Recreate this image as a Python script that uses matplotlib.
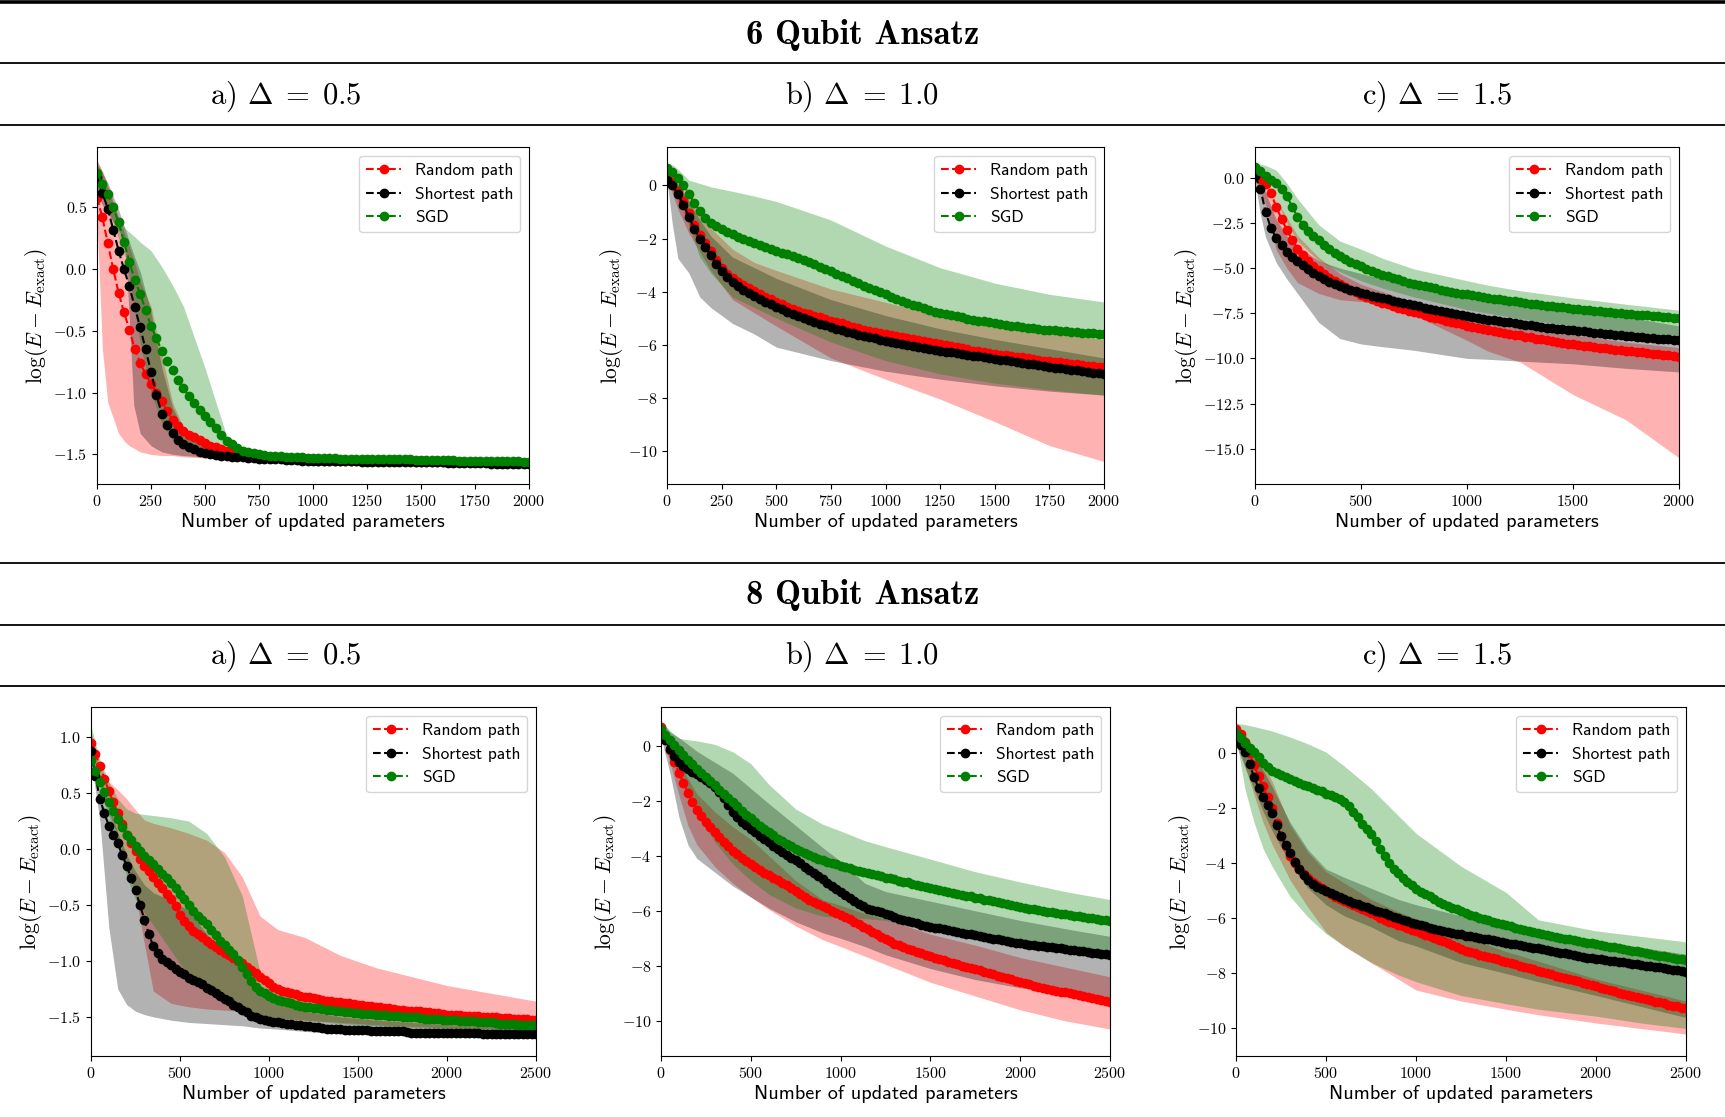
import numpy as np
import matplotlib
matplotlib.use("Agg")
import matplotlib.pyplot as plt
from matplotlib.lines import Line2D
from matplotlib.font_manager import FontProperties

plt.rcParams['font.family'] = 'cmr10'
plt.rcParams['mathtext.fontset'] = 'cm'
plt.rcParams['axes.formatter.use_mathtext'] = True
plt.rcParams['axes.unicode_minus'] = True

# ---------------- data ----------------
methods = ['Random path', 'Shortest path', 'SGD']
colors = ['red', 'black', 'green']
row_titles = ['6 Qubit Ansatz', '8 Qubit Ansatz']
panel_titles = [r'a) $\Delta\;=\;0.5$', r'b) $\Delta\;=\;1.0$', r'c) $\Delta\;=\;1.5$']

x6 = np.arange(0, 2001, 25)     # sampling grid, 6 qubits (81 points)
x8 = np.arange(0, 2501, 25)     # sampling grid, 8 qubits (101 points)

# ---- 6 qubits, Delta = 0.5
q6a_red = [0.58, 0.42, 0.21, 0.0, -0.19, -0.35, -0.49, -0.65, -0.76, -0.85,
           -0.93, -1.0, -1.07, -1.15, -1.22, -1.27, -1.31, -1.34, -1.36, -1.38,
           -1.41, -1.43, -1.44, -1.46, -1.47, -1.48, -1.49, -1.495, -1.5, -1.505,
           -1.51, -1.515, -1.52,
           -1.525, -1.53, -1.53, -1.535, -1.54, -1.54, -1.545, -1.545,
           -1.55, -1.55, -1.55, -1.55, -1.55, -1.55, -1.55, -1.55, -1.55, -1.55,
           -1.555, -1.555, -1.555, -1.555, -1.555, -1.555, -1.555, -1.555,
           -1.56, -1.56, -1.56, -1.56, -1.56, -1.56, -1.56, -1.56, -1.56, -1.56,
           -1.565, -1.565, -1.565, -1.565, -1.565, -1.565,
           -1.57, -1.57, -1.57, -1.57, -1.57, -1.57]
q6a_black = [0.75, 0.62, 0.49, 0.32, 0.15, 0.0, -0.14, -0.31, -0.47, -0.65,
             -0.83, -1.02, -1.17, -1.26, -1.33, -1.38, -1.42, -1.44, -1.46, -1.48,
             -1.49, -1.5, -1.505, -1.51, -1.515, -1.52, -1.52, -1.525, -1.53, -1.53,
             -1.535, -1.535, -1.54,
             -1.54, -1.54, -1.545, -1.545, -1.545, -1.55, -1.55, -1.55,
             -1.555, -1.555, -1.555, -1.555, -1.555, -1.555, -1.555, -1.555,
             -1.56, -1.56, -1.56, -1.56, -1.56, -1.56, -1.56, -1.56,
             -1.565, -1.565, -1.565, -1.565, -1.565, -1.565, -1.565, -1.565,
             -1.57, -1.57, -1.57, -1.57, -1.57, -1.57, -1.57, -1.57,
             -1.575, -1.575, -1.575, -1.575, -1.575, -1.58, -1.58, -1.58]
q6a_green = [0.78, 0.69, 0.61, 0.5, 0.38, 0.22, 0.06, -0.09, -0.2, -0.33,
             -0.46, -0.56, -0.66, -0.74, -0.82, -0.9, -0.96, -1.03, -1.08, -1.14,
             -1.19, -1.24, -1.29, -1.34, -1.39, -1.42, -1.45, -1.47, -1.48, -1.49,
             -1.5, -1.505, -1.51,
             -1.515, -1.515, -1.52, -1.52, -1.525, -1.525, -1.53, -1.53,
             -1.53, -1.53, -1.53, -1.53, -1.535, -1.535, -1.535, -1.535, -1.535, -1.535,
             -1.54, -1.54, -1.54, -1.54, -1.54, -1.54, -1.54, -1.54,
             -1.545, -1.545, -1.545, -1.545, -1.545, -1.545, -1.545, -1.545,
             -1.55, -1.55, -1.55, -1.55, -1.55, -1.55, -1.55, -1.55,
             -1.555, -1.555, -1.555, -1.555, -1.56, -1.56]
q6a_bx = [0, 25, 50, 100, 130, 150, 170, 200, 250, 300, 350, 400, 500, 600, 700, 800, 1000, 1500, 2000]
q6a_red_hi = [0.88, 0.8, 0.68, 0.42, 0.28, 0.18, 0.08, -0.1, -0.3, -0.7, -1.08, -1.28, -1.4, -1.46, -1.49, -1.51, -1.53, -1.54, -1.55]
q6a_red_lo = [0.4, -0.65, -1.08, -1.33, -1.40, -1.43, -1.45, -1.48, -1.5, -1.51, -1.51, -1.52, -1.53, -1.54, -1.55, -1.56, -1.57, -1.59, -1.6]
q6a_black_hi = [0.85, 0.78, 0.7, 0.48, 0.33, 0.22, 0.12, -0.02, -0.35, -0.8, -1.12, -1.3, -1.43, -1.48, -1.51, -1.52, -1.54, -1.55, -1.56]
q6a_black_lo = [0.62, 0.52, 0.45, 0.32, 0.2, -0.4, -1.1, -1.33, -1.43, -1.48, -1.5, -1.51, -1.52, -1.53, -1.54, -1.55, -1.56, -1.58, -1.6]
q6a_green_hi = [0.88, 0.78, 0.65, 0.4, 0.33, 0.3, 0.27, 0.22, 0.15, 0.02, -0.13, -0.3, -0.8, -1.35, -1.48, -1.51, -1.53, -1.54, -1.55]
q6a_green_lo = [0.66, 0.58, 0.5, 0.25, 0.1, -0.05, -0.3, -0.6, -1.0, -1.25, -1.38, -1.44, -1.49, -1.51, -1.52, -1.53, -1.55, -1.57, -1.58]

# ---- 6 qubits, Delta = 1.0
q6b_red = [0.3, 0.12, -0.2, -0.6, -1.03, -1.48, -1.86, -2.17, -2.48, -2.8,
           -3.1, -3.32, -3.48, -3.62, -3.75, -3.87, -3.98, -4.09, -4.19, -4.29,
           -4.39, -4.48, -4.57, -4.66, -4.74, -4.8, -4.86, -4.91, -4.97, -5.03,
           -5.09, -5.15, -5.2, -5.26, -5.32, -5.38, -5.44, -5.48, -5.52, -5.56, -5.6,
           -5.64, -5.68, -5.71, -5.75, -5.79, -5.83, -5.87, -5.9, -5.94, -5.98,
           -6.02, -6.06, -6.1, -6.14, -6.18, -6.22, -6.25, -6.28, -6.31, -6.34,
           -6.37, -6.4, -6.43, -6.45, -6.48, -6.51, -6.54, -6.57, -6.6, -6.62,
           -6.65, -6.67, -6.7, -6.72, -6.74, -6.76, -6.79, -6.81, -6.83, -6.85]
q6b_black = [0.2, 0.0, -0.33, -0.72, -1.18, -1.63, -2.0, -2.32, -2.62, -2.95,
             -3.24, -3.46, -3.64, -3.8, -3.93, -4.05, -4.17, -4.28, -4.38, -4.48,
             -4.58, -4.67, -4.76, -4.85, -4.93, -5.0, -5.07, -5.14, -5.21, -5.27,
             -5.33, -5.39, -5.45, -5.51, -5.56, -5.62, -5.67, -5.72, -5.76, -5.81, -5.85,
             -5.89, -5.93, -5.96, -6.0, -6.04, -6.08, -6.12, -6.16, -6.2, -6.23,
             -6.26, -6.29, -6.32, -6.35, -6.38, -6.41, -6.44, -6.47, -6.5, -6.53,
             -6.56, -6.59, -6.62, -6.65, -6.68, -6.71, -6.74, -6.77, -6.8, -6.83,
             -6.86, -6.88, -6.91, -6.94, -6.96, -6.99, -7.02, -7.05, -7.07, -7.1]
q6b_green = [0.65, 0.5, 0.29, 0.01, -0.32, -0.66, -0.98, -1.24, -1.42, -1.54,
             -1.65, -1.75, -1.84, -1.93, -2.01, -2.09, -2.17, -2.25, -2.33, -2.4,
             -2.47, -2.53, -2.6, -2.67, -2.74, -2.81, -2.89, -2.97, -3.06, -3.15,
             -3.24, -3.32, -3.41, -3.5, -3.59, -3.68, -3.77, -3.86, -3.94, -4.02, -4.1,
             -4.19, -4.27, -4.35, -4.42, -4.49, -4.56, -4.63, -4.69, -4.75, -4.8,
             -4.84, -4.89, -4.93, -4.97, -5.02, -5.06, -5.09, -5.12, -5.16, -5.19,
             -5.23, -5.26, -5.29, -5.31, -5.34, -5.36, -5.38, -5.41, -5.43, -5.44,
             -5.46, -5.48, -5.5, -5.51, -5.53, -5.55, -5.56, -5.57, -5.58, -5.59]
q6b_bx = [0, 25, 50, 100, 150, 200, 300, 400, 500, 750, 1000, 1250, 1500, 1750, 2000]
q6b_red_hi = [0.6, 0.4, 0.1, -0.5, -1.1, -1.6, -2.4, -2.9, -3.2, -3.9, -4.4, -4.9, -5.25, -5.55, -5.8]
q6b_red_lo = [0.2, -0.3, -0.9, -1.8, -2.5, -3.2, -4.3, -4.8, -5.3, -6.5, -7.3, -8.05, -8.9, -9.8, -10.4]
q6b_black_hi = [0.6, 0.35, 0.0, -0.6, -1.3, -1.9, -2.7, -3.1, -3.5, -4.3, -4.9, -5.4, -5.8, -6.15, -6.5]
q6b_black_lo = [0.2, -1.5, -2.75, -3.3, -4.2, -4.6, -5.2, -5.6, -6.09, -6.6, -7.0, -7.3, -7.55, -7.75, -7.9]
q6b_green_hi = [0.85, 0.78, 0.62, 0.2, 0.08, -0.05, -0.22, -0.4, -0.6, -1.3, -2.28, -3.1, -3.68, -4.1, -4.39]
q6b_green_lo = [0.5, 0.2, -0.2, -1.5, -2.7, -3.3, -4.2, -4.6, -5.0, -5.9, -6.6, -7.1, -7.45, -7.7, -7.9]

# ---- 6 qubits, Delta = 1.5
q6c_red = [0.3, -0.05, -0.35, -0.85, -1.6, -2.28, -2.89, -3.42, -3.92, -4.3,
           -4.62, -4.89, -5.12, -5.34, -5.54, -5.72, -5.88, -6.04, -6.19, -6.33,
           -6.47, -6.6, -6.72, -6.82, -6.92, -7.01, -7.1, -7.19, -7.27, -7.35,
           -7.43, -7.51, -7.61, -7.69, -7.77, -7.84, -7.91, -7.98, -8.05, -8.12, -8.18,
           -8.25, -8.31, -8.37, -8.42, -8.48, -8.53, -8.58, -8.63, -8.68, -8.73,
           -8.79, -8.84, -8.9, -8.95, -9.0, -9.06, -9.1, -9.14, -9.18, -9.22,
           -9.26, -9.3, -9.34, -9.38, -9.41, -9.44, -9.47, -9.51, -9.54, -9.57,
           -9.61, -9.64, -9.67, -9.7, -9.73, -9.76, -9.79, -9.82, -9.86, -9.91]
q6c_black = [0.1, -0.6, -1.9, -2.78, -3.33, -3.75, -4.09, -4.38, -4.62, -4.84,
             -5.05, -5.25, -5.43, -5.59, -5.75, -5.89, -6.0, -6.11, -6.21, -6.29,
             -6.38, -6.46, -6.53, -6.6, -6.66, -6.73, -6.8, -6.86, -6.93, -6.99,
             -7.06, -7.12, -7.19, -7.26, -7.33, -7.39, -7.45, -7.5, -7.56, -7.61, -7.67,
             -7.72, -7.76, -7.81, -7.85, -7.89, -7.93, -7.97, -8.01, -8.05, -8.09,
             -8.13, -8.17, -8.21, -8.25, -8.29, -8.33, -8.36, -8.39, -8.42, -8.45,
             -8.48, -8.51, -8.54, -8.57, -8.6, -8.63, -8.66, -8.69, -8.72, -8.75,
             -8.78, -8.8, -8.83, -8.85, -8.88, -8.9, -8.92, -8.95, -8.97, -8.99]
q6c_green = [0.6, 0.35, 0.09, -0.11, -0.3, -0.6, -1.0, -1.6, -2.15, -2.6,
             -2.95, -3.23, -3.47, -3.71, -3.95, -4.15, -4.33, -4.49, -4.64, -4.77,
             -4.91, -5.04, -5.16, -5.26, -5.36, -5.46, -5.55, -5.63, -5.72, -5.8,
             -5.87, -5.93, -6.0, -6.06, -6.12, -6.19, -6.25, -6.3, -6.36, -6.41, -6.46,
             -6.51, -6.56, -6.61, -6.65, -6.69, -6.73, -6.77, -6.81, -6.85, -6.89,
             -6.93, -6.97, -7.01, -7.05, -7.08, -7.12, -7.15, -7.18, -7.21, -7.24,
             -7.27, -7.3, -7.34, -7.37, -7.39, -7.42, -7.45, -7.47, -7.5, -7.52,
             -7.55, -7.57, -7.6, -7.62, -7.65, -7.67, -7.7, -7.73, -7.76, -7.79]
q6c_bx = [0, 25, 50, 100, 150, 200, 300, 400, 500, 600, 750, 1000, 1100, 1250, 1500, 1750, 2000]
q6c_red_hi = [0.5, 0.2, -0.3, -1.2, -2.2, -3.2, -4.4, -5.3, -5.9, -6.3, -6.9, -7.6, -7.9, -8.3, -8.7, -9.1, -9.4]
q6c_red_lo = [0.0, -0.8, -1.5, -4.0, -5.0, -5.8, -6.4, -6.75, -6.85, -7.0, -7.6, -9.0, -9.6, -10.2, -12.0, -13.4, -15.5]
q6c_black_hi = [0.3, -0.2, -0.8, -2.3, -3.2, -3.8, -4.6, -5.0, -5.3, -5.6, -5.9, -6.4, -6.6, -6.9, -7.3, -7.7, -8.2]
q6c_black_lo = [-0.2, -2.0, -3.3, -4.7, -5.6, -6.4, -8.0, -8.9, -9.2, -9.35, -9.55, -10.0, -10.05, -10.15, -10.3, -10.55, -10.75]
q6c_green_hi = [0.8, 0.75, 0.68, 0.42, -0.3, -1.15, -2.6, -3.5, -3.95, -4.45, -5.05, -5.7, -5.95, -6.25, -6.65, -7.0, -7.33]
q6c_green_lo = [0.4, 0.1, -0.3, -1.2, -2.5, -3.5, -4.6, -5.2, -5.7, -6.1, -6.6, -7.3, -7.5, -7.8, -8.2, -8.5, -8.75]

# ---- 8 qubits, Delta = 0.5
q8a_red = [0.95, 0.85, 0.74, 0.63, 0.52, 0.42, 0.32, 0.22, 0.13, 0.05, -0.02,
           -0.09, -0.15, -0.2, -0.25, -0.3, -0.35, -0.4, -0.45, -0.51, -0.59,
           -0.64, -0.69, -0.73, -0.76, -0.79, -0.82, -0.85, -0.88, -0.9, -0.93,
           -0.95, -0.97, -1.0, -1.02, -1.05, -1.08, -1.11, -1.14, -1.17, -1.2,
           -1.23, -1.25, -1.27, -1.28, -1.29, -1.3, -1.31, -1.32, -1.325, -1.33,
           -1.34, -1.35, -1.355, -1.36, -1.365, -1.37, -1.375, -1.38, -1.385, -1.39,
           -1.395, -1.4, -1.405, -1.41, -1.415, -1.42, -1.425, -1.43, -1.435, -1.44,
           -1.445, -1.45, -1.45, -1.45, -1.455, -1.46, -1.465, -1.47, -1.475, -1.48,
           -1.48, -1.48, -1.485, -1.49, -1.49, -1.49, -1.495, -1.5, -1.5, -1.5,
           -1.505, -1.51, -1.51, -1.51, -1.515, -1.52, -1.52, -1.52, -1.525, -1.53]
q8a_black = [0.88, 0.65, 0.45, 0.32, 0.21, 0.13, 0.05, -0.05, -0.15, -0.26, -0.37,
             -0.5, -0.63, -0.76, -0.87, -0.93, -0.98, -1.01, -1.04, -1.07, -1.1,
             -1.12, -1.15, -1.17, -1.19, -1.21, -1.24, -1.26, -1.29, -1.31, -1.34,
             -1.36, -1.39, -1.41, -1.44, -1.46, -1.49, -1.5, -1.52, -1.53, -1.54,
             -1.545, -1.55, -1.555, -1.56, -1.565, -1.57, -1.575, -1.58, -1.585, -1.59,
             -1.595, -1.6, -1.605, -1.61, -1.61, -1.61, -1.615, -1.62, -1.62, -1.62,
             -1.62, -1.62, -1.625, -1.63, -1.63, -1.63, -1.63, -1.63, -1.63, -1.63,
             -1.635, -1.64, -1.64, -1.64, -1.64, -1.64, -1.64, -1.64, -1.64, -1.64,
             -1.64, -1.64, -1.64, -1.64, -1.645, -1.645, -1.645, -1.65, -1.65, -1.65,
             -1.65, -1.65, -1.65, -1.65, -1.65, -1.65, -1.65, -1.65, -1.65, -1.65]
q8a_green = [0.8, 0.7, 0.6, 0.51, 0.42, 0.34, 0.27, 0.2, 0.13, 0.08, 0.03,
             -0.02, -0.06, -0.1, -0.13, -0.18, -0.22, -0.26, -0.3, -0.35, -0.4,
             -0.45, -0.5, -0.55, -0.6, -0.63, -0.67, -0.72, -0.77, -0.82, -0.86,
             -0.9, -0.94, -0.99, -1.05, -1.12, -1.18, -1.23, -1.27, -1.29, -1.31,
             -1.33, -1.35, -1.36, -1.37, -1.38, -1.39, -1.4, -1.41, -1.415, -1.42,
             -1.425, -1.43, -1.435, -1.44, -1.445, -1.45, -1.455, -1.46, -1.465, -1.47,
             -1.472, -1.475, -1.478, -1.48, -1.483, -1.485, -1.488, -1.49, -1.495, -1.5,
             -1.5, -1.5, -1.505, -1.51, -1.515, -1.52, -1.52, -1.52, -1.525, -1.53,
             -1.53, -1.53, -1.535, -1.54, -1.54, -1.54, -1.545, -1.55, -1.55, -1.55,
             -1.555, -1.56, -1.56, -1.56, -1.565, -1.57, -1.57, -1.57, -1.57, -1.57]
q8a_bx = [0, 50, 100, 150, 200, 250, 300, 350, 450, 550, 650, 750, 850, 950, 1050, 1200, 1400, 1600, 2000, 2500]
q8a_red_hi = [1.05, 0.75, 0.6, 0.53, 0.45, 0.35, 0.26, 0.23, 0.19, 0.14, 0.08, -0.03, -0.25, -0.6, -0.72, -0.79, -0.95, -1.06, -1.22, -1.36]
q8a_red_lo = [0.9, 0.6, 0.35, 0.1, -0.15, -0.4, -0.85, -1.27, -1.38, -1.41, -1.43, -1.44, -1.45, -1.48, -1.51, -1.53, -1.55, -1.57, -1.6, -1.62]
q8a_black_hi = [0.95, 0.65, 0.4, 0.15, -0.05, -0.2, -0.32, -0.39, -0.46, -0.55, -0.76, -0.92, -1.1, -1.27, -1.37, -1.45, -1.5, -1.53, -1.57, -1.6]
q8a_black_lo = [0.8, 0.25, -0.7, -1.25, -1.39, -1.45, -1.48, -1.5, -1.53, -1.55, -1.56, -1.57, -1.58, -1.6, -1.61, -1.63, -1.65, -1.66, -1.68, -1.69]
q8a_green_hi = [1.1, 0.8, 0.6, 0.45, 0.36, 0.32, 0.31, 0.3, 0.28, 0.25, 0.14, -0.07, -0.42, -1.1, -1.25, -1.33, -1.39, -1.43, -1.48, -1.51]
q8a_green_lo = [0.75, 0.55, 0.3, 0.05, -0.25, -0.45, -0.57, -0.68, -0.91, -1.14, -1.27, -1.36, -1.43, -1.48, -1.51, -1.53, -1.56, -1.58, -1.61, -1.63]

# ---- 8 qubits, Delta = 1.0
q8b_red = [0.7, 0.3, -0.15, -0.58, -0.98, -1.37, -1.72, -2.04, -2.32, -2.56, -2.77,
           -2.96, -3.15, -3.33, -3.5, -3.66, -3.82, -3.95, -4.08, -4.2, -4.31,
           -4.42, -4.53, -4.62, -4.71, -4.8, -4.89, -4.98, -5.08, -5.17, -5.27,
           -5.38, -5.49, -5.59, -5.69, -5.77, -5.84, -5.91, -5.99, -6.07, -6.15,
           -6.23, -6.31, -6.4, -6.49, -6.58, -6.68, -6.77, -6.86, -6.95, -7.03,
           -7.11, -7.19, -7.26, -7.32, -7.38, -7.44, -7.5, -7.55, -7.6, -7.65,
           -7.7, -7.75, -7.8, -7.85, -7.9, -7.94, -7.99, -8.03, -8.08, -8.12,
           -8.17, -8.22, -8.27, -8.31, -8.36, -8.4, -8.45, -8.49, -8.54, -8.58,
           -8.63, -8.67, -8.72, -8.77, -8.81, -8.85, -8.88, -8.91, -8.94, -8.97,
           -9.0, -9.03, -9.07, -9.1, -9.14, -9.17, -9.21, -9.24, -9.27, -9.3]
q8b_black = [0.5, 0.2, -0.1, -0.38, -0.6, -0.74, -0.84, -0.94, -1.03, -1.14, -1.25,
             -1.37, -1.5, -1.68, -1.9, -2.17, -2.42, -2.6, -2.76, -2.89, -3.01,
             -3.14, -3.27, -3.39, -3.51, -3.63, -3.75, -3.86, -3.96, -4.07, -4.17,
             -4.28, -4.39, -4.5, -4.61, -4.74, -4.86, -4.98, -5.1, -5.21, -5.31,
             -5.42, -5.52, -5.63, -5.74, -5.84, -5.93, -5.98, -6.02, -6.06, -6.1,
             -6.17, -6.24, -6.29, -6.34, -6.38, -6.42, -6.46, -6.5, -6.54, -6.58,
             -6.61, -6.64, -6.68, -6.71, -6.74, -6.77, -6.8, -6.83, -6.86, -6.89,
             -6.92, -6.95, -6.98, -7.01, -7.04, -7.07, -7.1, -7.13, -7.16, -7.18,
             -7.21, -7.23, -7.25, -7.27, -7.29, -7.31, -7.33, -7.35, -7.37, -7.39,
             -7.41, -7.43, -7.45, -7.47, -7.5, -7.52, -7.54, -7.56, -7.58, -7.6]
q8b_green = [0.6, 0.41, 0.22, 0.03, -0.15, -0.33, -0.51, -0.67, -0.83, -0.98, -1.13,
             -1.28, -1.44, -1.59, -1.74, -1.89, -2.05, -2.2, -2.36, -2.5, -2.64,
             -2.77, -2.9, -3.02, -3.15, -3.26, -3.38, -3.47, -3.57, -3.65, -3.74,
             -3.81, -3.89, -3.96, -4.03, -4.1, -4.16, -4.21, -4.26, -4.31, -4.36,
             -4.41, -4.46, -4.5, -4.55, -4.59, -4.63, -4.67, -4.71, -4.75, -4.79,
             -4.82, -4.86, -4.9, -4.94, -4.97, -5.01, -5.05, -5.09, -5.13, -5.17,
             -5.21, -5.25, -5.28, -5.32, -5.35, -5.39, -5.42, -5.45, -5.48, -5.52,
             -5.55, -5.59, -5.62, -5.66, -5.69, -5.73, -5.76, -5.79, -5.82, -5.86,
             -5.89, -5.92, -5.95, -5.98, -6.0, -6.03, -6.05, -6.08, -6.1, -6.13,
             -6.15, -6.18, -6.2, -6.23, -6.25, -6.28, -6.3, -6.33, -6.35, -6.38]
q8b_bx = [0, 50, 100, 150, 200, 300, 400, 500, 600, 750, 900, 1000, 1135, 1250, 1500, 1750, 2000, 2250, 2500]
q8b_red_hi = [0.8, 0.1, -0.6, -1.2, -1.75, -2.4, -2.95, -3.4, -4.0, -4.9, -5.6, -5.8, -6.1, -6.3, -6.85, -7.25, -7.7, -8.05, -8.4]
q8b_red_lo = [0.5, -0.6, -1.8, -2.9, -3.6, -4.4, -5.0, -5.5, -5.95, -6.55, -7.05, -7.3, -7.65, -7.95, -8.6, -9.1, -9.6, -10.0, -10.3]
q8b_black_hi = [0.9, 0.5, 0.3, 0.05, -0.2, -0.6, -1.0, -1.55, -2.1, -2.9, -3.7, -4.2, -5.0, -5.3, -5.65, -6.0, -6.35, -6.65, -6.93]
q8b_black_lo = [0.3, -1.0, -2.6, -3.6, -4.1, -4.6, -5.1, -5.5, -5.9, -6.4, -6.8, -7.0, -7.3, -7.6, -8.1, -8.5, -8.8, -9.0, -9.2]
q8b_green_hi = [0.9, 0.55, 0.27, 0.22, 0.18, 0.05, -0.22, -0.65, -1.4, -2.3, -2.85, -3.1, -3.45, -3.67, -4.12, -4.58, -4.95, -5.3, -5.59]
q8b_green_lo = [0.5, -0.2, -1.0, -1.8, -2.5, -3.5, -4.3, -4.9, -5.4, -5.9, -6.2, -6.25, -6.28, -6.35, -6.7, -7.0, -7.3, -7.5, -7.6]

# ---- 8 qubits, Delta = 1.5
q8c_red = [0.9, 0.7, 0.42, 0.02, -0.42, -0.82, -1.2, -1.58, -2.0, -2.52, -3.0,
           -3.38, -3.72, -3.98, -4.2, -4.38, -4.53, -4.66, -4.77, -4.89, -5.0,
           -5.11, -5.21, -5.29, -5.37, -5.45, -5.52, -5.6, -5.67, -5.74, -5.81,
           -5.89, -5.97, -6.04, -6.11, -6.17, -6.23, -6.29, -6.35, -6.41, -6.47,
           -6.53, -6.59, -6.65, -6.71, -6.77, -6.83, -6.9, -6.98, -7.05, -7.12,
           -7.17, -7.22, -7.27, -7.31, -7.36, -7.4, -7.45, -7.49, -7.54, -7.58,
           -7.63, -7.67, -7.72, -7.76, -7.81, -7.85, -7.9, -7.94, -7.99, -8.03,
           -8.08, -8.12, -8.17, -8.21, -8.25, -8.29, -8.34, -8.38, -8.43, -8.47,
           -8.52, -8.56, -8.61, -8.65, -8.7, -8.74, -8.79, -8.83, -8.87, -8.9,
           -8.94, -8.98, -9.02, -9.05, -9.09, -9.13, -9.17, -9.2, -9.24, -9.27]
q8c_black = [0.4, 0.32, 0.05, -0.4, -0.85, -1.25, -1.58, -1.88, -2.18, -2.6, -3.0,
             -3.32, -3.62, -3.93, -4.21, -4.43, -4.6, -4.73, -4.84, -4.93, -5.0,
             -5.08, -5.16, -5.23, -5.3, -5.37, -5.43, -5.49, -5.55, -5.6, -5.65,
             -5.71, -5.76, -5.81, -5.86, -5.93, -5.99, -6.05, -6.1, -6.15, -6.19,
             -6.24, -6.28, -6.33, -6.37, -6.42, -6.46, -6.49, -6.52, -6.55, -6.58,
             -6.62, -6.65, -6.68, -6.71, -6.74, -6.76, -6.79, -6.82, -6.85, -6.88,
             -6.91, -6.94, -6.97, -7.0, -7.03, -7.06, -7.09, -7.12, -7.15, -7.18,
             -7.21, -7.24, -7.27, -7.3, -7.33, -7.36, -7.39, -7.42, -7.45, -7.47,
             -7.49, -7.51, -7.54, -7.56, -7.58, -7.6, -7.63, -7.65, -7.67, -7.69,
             -7.72, -7.74, -7.76, -7.78, -7.81, -7.83, -7.86, -7.88, -7.9, -7.93]
q8c_green = [0.75, 0.58, 0.37, 0.2, 0.06, -0.14, -0.35, -0.5, -0.63, -0.72, -0.79,
             -0.86, -0.93, -1.0, -1.07, -1.13, -1.19, -1.25, -1.31, -1.38, -1.46,
             -1.52, -1.58, -1.65, -1.75, -1.92, -2.12, -2.32, -2.55, -2.74, -2.94,
             -3.2, -3.47, -3.73, -4.0, -4.2, -4.36, -4.51, -4.66, -4.8, -4.93,
             -5.02, -5.11, -5.2, -5.3, -5.4, -5.49, -5.55, -5.61, -5.67, -5.73,
             -5.8, -5.86, -5.92, -5.97, -6.02, -6.06, -6.11, -6.15, -6.2, -6.24,
             -6.29, -6.33, -6.37, -6.41, -6.45, -6.49, -6.53, -6.56, -6.6, -6.64,
             -6.67, -6.7, -6.73, -6.76, -6.79, -6.82, -6.85, -6.88, -6.9, -6.93,
             -6.96, -6.99, -7.02, -7.05, -7.08, -7.11, -7.14, -7.17, -7.2, -7.23,
             -7.26, -7.29, -7.32, -7.35, -7.38, -7.41, -7.44, -7.46, -7.48, -7.5]
q8c_bx = [0, 50, 100, 150, 200, 300, 400, 500, 600, 750, 900, 1000, 1250, 1500, 1680, 2000, 2250, 2500]
q8c_red_hi = [1.0, 0.7, 0.2, -0.4, -1.0, -2.6, -3.6, -4.3, -4.7, -5.3, -5.75, -6.0, -6.6, -7.2, -7.55, -8.2, -8.6, -9.0]
q8c_red_lo = [0.6, -0.5, -1.5, -2.5, -3.3, -4.6, -5.6, -6.5, -7.0, -7.6, -8.2, -8.6, -9.0, -9.3, -9.5, -9.8, -10.0, -10.2]
q8c_black_hi = [0.8, 0.5, 0.0, -0.6, -1.2, -2.5, -3.5, -4.2, -4.5, -4.9, -5.3, -5.5, -5.9, -6.2, -6.4, -6.8, -7.05, -7.3]
q8c_black_lo = [0.3, -0.5, -1.3, -2.1, -2.8, -4.0, -4.9, -5.5, -5.9, -6.3, -6.8, -7.0, -7.6, -8.0, -8.3, -8.8, -9.2, -9.6]
q8c_green_hi = [1.1, 1.05, 0.98, 0.9, 0.82, 0.6, 0.35, 0.05, -0.45, -1.27, -2.25, -2.9, -4.1, -5.05, -6.05, -6.45, -6.65, -6.85]
q8c_green_lo = [0.6, -1.3, -2.5, -3.45, -4.1, -5.2, -5.95, -6.55, -7.0, -7.6, -8.05, -8.3, -8.8, -9.1, -9.3, -9.55, -9.8, -10.0]

xticks_a = [0, 250, 500, 750, 1000, 1250, 1500, 1750, 2000]
xticks_c6 = [0, 500, 1000, 1500, 2000]
xticks_8 = [0, 500, 1000, 1500, 2000, 2500]
yticks = {
    'q6a': [-1.5, -1.0, -0.5, 0.0, 0.5],
    'q6b': [-10, -8, -6, -4, -2, 0],
    'q6c': [-15.0, -12.5, -10.0, -7.5, -5.0, -2.5, 0.0],
    'q8a': [-1.5, -1.0, -0.5, 0.0, 0.5, 1.0],
    'q8b': [-10, -8, -6, -4, -2, 0],
    'q8c': [-10, -8, -6, -4, -2, 0],
}

# ---------------- layout ----------------
W, H = 1725, 1117
fig = plt.figure(figsize=(W / 100, H / 100), dpi=100)


def box(l, r, t, b):
    return [l / W, 1 - b / H, (r - l) / W, (b - t) / H]


panels = [
    dict(key='q6a', pos=box(97, 529, 147, 484), x=x6, xmax=2000, xt=xticks_a, ylim=(-1.74, 0.99),
         means=[q6a_red, q6a_black, q6a_green], bx=q6a_bx,
         bands=[(q6a_red_lo, q6a_red_hi), (q6a_black_lo, q6a_black_hi), (q6a_green_lo, q6a_green_hi)]),
    dict(key='q6b', pos=box(667, 1104, 147, 484), x=x6, xmax=2000, xt=xticks_a, ylim=(-11.25, 1.45),
         means=[q6b_red, q6b_black, q6b_green], bx=q6b_bx,
         bands=[(q6b_red_lo, q6b_red_hi), (q6b_black_lo, q6b_black_hi), (q6b_green_lo, q6b_green_hi)]),
    dict(key='q6c', pos=box(1255, 1679, 147, 484), x=x6, xmax=2000, xt=xticks_c6, ylim=(-16.95, 1.7),
         means=[q6c_red, q6c_black, q6c_green], bx=q6c_bx,
         bands=[(q6c_red_lo, q6c_red_hi), (q6c_black_lo, q6c_black_hi), (q6c_green_lo, q6c_green_hi)]),
    dict(key='q8a', pos=box(91, 536, 707, 1056), x=x8, xmax=2500, xt=xticks_8, ylim=(-1.85, 1.27),
         means=[q8a_red, q8a_black, q8a_green], bx=q8a_bx,
         bands=[(q8a_red_lo, q8a_red_hi), (q8a_black_lo, q8a_black_hi), (q8a_green_lo, q8a_green_hi)]),
    dict(key='q8b', pos=box(661, 1110, 707, 1056), x=x8, xmax=2500, xt=xticks_8, ylim=(-11.28, 1.41),
         means=[q8b_red, q8b_black, q8b_green], bx=q8b_bx,
         bands=[(q8b_red_lo, q8b_red_hi), (q8b_black_lo, q8b_black_hi), (q8b_green_lo, q8b_green_hi)]),
    dict(key='q8c', pos=box(1236, 1686, 707, 1056), x=x8, xmax=2500, xt=xticks_8, ylim=(-11.0, 1.69),
         means=[q8c_red, q8c_black, q8c_green], bx=q8c_bx,
         bands=[(q8c_red_lo, q8c_red_hi), (q8c_black_lo, q8c_black_hi), (q8c_green_lo, q8c_green_hi)]),
]

sans = 'cmss10'
for p in panels:
    ax = fig.add_axes(p['pos'])
    for (lo, hi), c in zip(p['bands'], colors):
        ax.fill_between(p['bx'], lo, hi, color=c, alpha=0.3, linewidth=0)
    for m, c, lab in zip(p['means'], colors, methods):
        ax.plot(p['x'], m, linestyle='--', marker='o', color=c, label=lab,
                markersize=6, linewidth=1.5)
    ax.set_xlim(0, p['xmax'])
    ax.set_ylim(*p['ylim'])
    ax.set_xticks(p['xt'])
    ax.set_yticks(yticks[p['key']])
    ax.tick_params(labelsize=11.5)
    ax.set_xlabel('Number of updated parameters', fontfamily=sans, fontsize=14.5, labelpad=3)
    ax.set_ylabel(r'$\log(E - E_{\rm exact})$', fontsize=15.5, labelpad=2)
    ax.legend(loc='upper right', prop=FontProperties(family=sans, size=12.5))

# ---------------- headers and rules ----------------
xc = [286 / W, 862 / W, 1437 / W]
for ti, (ty, sy) in zip(row_titles, [(35, 97), (595, 657)]):
    fig.text(0.5, 1 - ty / H, ti, ha='center', va='center', fontfamily='cmb10', fontsize=25)
    for x, st in zip(xc, panel_titles):
        fig.text(x, 1 - sy / H, st, ha='center', va='center', fontsize=22)

for yy, lw in [(1.5, 2.6), (63, 1.3), (125, 1.3), (563, 1.3), (625, 1.3), (686, 1.3)]:
    fig.add_artist(Line2D([0, 1], [1 - yy / H, 1 - yy / H], transform=fig.transFigure,
                          color='black', linewidth=lw))

fig.savefig('out.png', dpi=100)
